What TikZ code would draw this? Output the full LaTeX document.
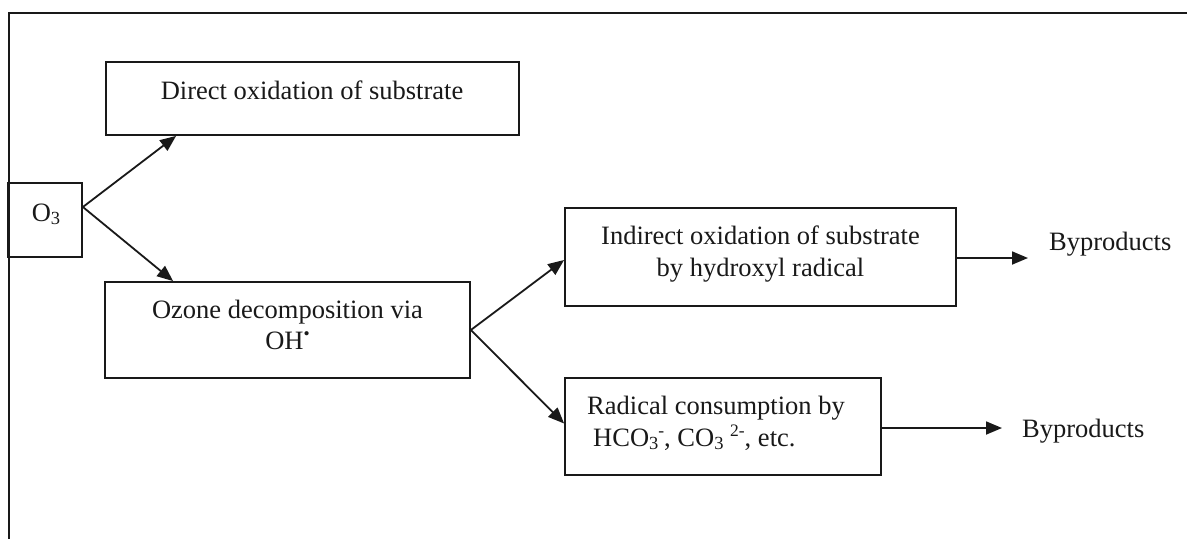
\documentclass[tikz,border=0pt]{standalone}
\usepackage{fontspec}
\setmainfont{Liberation Serif}
\usetikzlibrary{arrows.meta}
\definecolor{ink}{gray}{0.1}
\newcommand\subsc[1]{\raisebox{-3.5pt}{\fontsize{18.5}{18.5}\selectfont #1}}
\newcommand\supsc[1]{\raisebox{10pt}{\fontsize{17.5}{17.5}\selectfont #1}}
\begin{document}
\begin{tikzpicture}[x=1pt,y=-1pt,
  box/.style={draw=ink,line width=1.8pt,rectangle,inner sep=0pt},
  txt/.style={text=ink,inner sep=0pt,font=\fontsize{26.5}{31.5}\selectfont},
  arr/.style={draw=ink,line width=1.8pt,-{Triangle[length=16pt,width=13pt]}}]
\useasboundingbox (0,0) rectangle (1187,539);
\fill[white] (0,0) rectangle (1187,539);
% outer frame (top and left sides visible)
\draw[ink,line width=2pt] (1187,13) -- (8.5,13) -- (8.5,539);
% boxes
\node[box,minimum width=413pt,minimum height=73pt] (direct) at (312.5,98.5) {};
\node[box,minimum width=74pt,minimum height=74pt] (o3) at (45,220) {};
\node[box,minimum width=365pt,minimum height=96pt] (ozone) at (287.5,330) {};
\node[box,minimum width=391pt,minimum height=98pt] (indirect) at (760.5,257) {};
\node[box,minimum width=316pt,minimum height=97pt] (radical) at (723,426.5) {};
% texts
\node[txt,anchor=base] (dtxt) at (312,99) {Direct oxidation of substrate};
\node[txt,anchor=base] (otxt) at (46,221) {O\subsc{3}};
\node[txt,anchor=base] (oz1) at (287.5,318) {Ozone decomposition via};
\node[txt,anchor=base] (oz2) at (287.5,349) {OH\supsc{•}};
\node[txt,anchor=base] (in1) at (760.5,244) {Indirect oxidation of substrate};
\node[txt,anchor=base] (in2) at (760.5,276) {by hydroxyl radical};
\node[txt,anchor=base west] (ra1) at (587,414) {Radical consumption by};
\node[txt,anchor=base west] (ra2) at (593,446) {HCO\subsc{3}\supsc{-}, CO\subsc{3} \supsc{2-}, etc.};
\node[txt,anchor=base west] (bp1) at (1049,250) {Byproducts};
\node[txt,anchor=base west] (bp2) at (1022,437) {Byproducts};
% connectors
\coordinate (o3out) at ([yshift=13pt]o3.east);
\draw[arr] (o3out) -- ([xshift=71pt]direct.south west);
\draw[arr] (o3out) -- ([xshift=69pt]ozone.north west);
\draw[arr] (ozone.east) -- ([yshift=-3pt]indirect.west);
\draw[arr] (ozone.east) -- ([yshift=3pt]radical.west);
\draw[arr,shorten >=21pt] ([yshift=-1pt]indirect.east) -- ([yshift=-1pt]indirect.east -| bp1.west);
\draw[arr,shorten >=20pt] ([yshift=-1.5pt]radical.east) -- ([yshift=-1.5pt]radical.east -| bp2.west);
\end{tikzpicture}
\end{document}
